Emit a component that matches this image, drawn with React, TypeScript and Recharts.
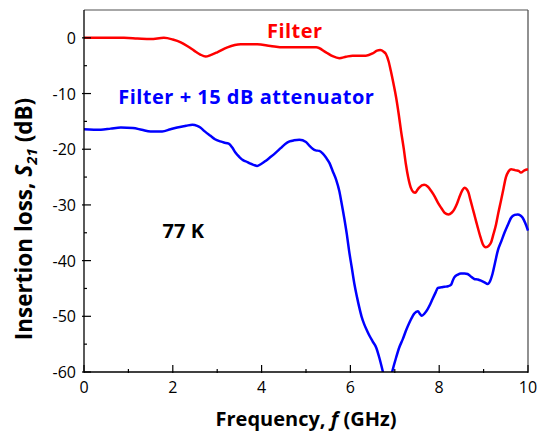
import { LineChart, Line, XAxis, YAxis, ReferenceLine, ReferenceDot, Label } from 'recharts';

const filterFreq = [
  0, 0.5, 0.9, 1.2, 1.5, 1.8, 2.0, 2.18, 2.35, 2.48, 2.62, 2.74, 2.85, 3.0, 3.23, 3.53, 3.9, 4.2, 4.5, 4.8,
  5.0, 5.23, 5.45, 5.6, 5.75, 5.9, 6.05, 6.35, 6.5, 6.6, 6.67, 6.75, 6.8, 6.86, 6.91, 6.97, 7.03, 7.09, 7.14,
  7.2, 7.25, 7.3, 7.36, 7.42, 7.46, 7.51, 7.55, 7.66, 7.74, 7.82, 7.9, 7.97, 8.05, 8.12, 8.21, 8.28, 8.34,
  8.4, 8.45, 8.52, 8.57, 8.62, 8.66, 8.7, 8.75, 8.81, 8.87, 8.93, 8.98, 9.05, 9.12, 9.17, 9.22, 9.28, 9.33,
  9.39, 9.45, 9.5, 9.56, 9.62, 9.68, 9.73, 9.79, 9.84, 9.92, 10,
];
const filterLoss = [
  0, 0, 0, -0.1, -0.2, 0, -0.3, -0.8, -1.6, -2.3, -3.0, -3.35, -3.1, -2.6, -1.7, -1.15, -1.15, -1.45, -1.7, -1.7,
  -1.7, -1.7, -2.6, -3.3, -3.65, -3.4, -3.2, -3.2, -2.8, -2.3, -2.2, -2.5, -2.9, -4.2, -5.9, -8.2, -10.7, -13.8, -16.7,
  -19.8, -22.7, -25.0, -26.9, -27.7, -27.8, -27.3, -26.9, -26.4, -26.7, -27.5, -28.5, -29.6, -30.6, -31.4, -31.7, -31.4, -30.8,
  -29.8, -28.7, -27.4, -26.9, -27.2, -27.8, -29, -30.5, -32.3, -34.1, -35.8, -37.0, -37.6, -37.3, -36.7, -35.3, -33.5, -31.5,
  -29.3, -27.0, -25.1, -24.0, -23.6, -23.7, -23.8, -23.9, -24.2, -23.8, -23.6,
];

const attFreq = [
  0, 0.38, 0.6, 0.83, 1.1, 1.3, 1.5, 1.76, 1.95, 2.1, 2.3, 2.44, 2.55, 2.62, 2.72, 2.85, 2.95, 3.07, 3.15, 3.26,
  3.34, 3.41, 3.5, 3.59, 3.68, 3.75, 3.82, 3.9, 3.98, 4.09, 4.2, 4.32, 4.43, 4.54, 4.63, 4.73, 4.85, 5.0, 5.08,
  5.15, 5.22, 5.3, 5.38, 5.45, 5.53, 5.6, 5.68, 5.75, 5.8, 5.86, 5.92, 5.97, 6.03, 6.09, 6.15, 6.2, 6.25, 6.31,
  6.37, 6.43, 6.5, 6.58, 6.65, 6.73, 6.78, 6.84, 6.9, 6.94, 7.03, 7.1, 7.18, 7.25, 7.33, 7.4, 7.44, 7.52, 7.57,
  7.61, 7.67, 7.74, 7.8, 7.85, 7.92, 7.97, 8.05, 8.12, 8.2, 8.27, 8.3, 8.34, 8.42, 8.49, 8.57, 8.64, 8.72, 8.79,
  8.87, 8.94, 9.02, 9.09, 9.15, 9.2, 9.26, 9.32, 9.4, 9.47, 9.55, 9.62, 9.7, 9.77, 9.83, 9.88, 9.94, 10,
];
const attLoss = [
  -16.4, -16.5, -16.3, -16.1, -16.2, -16.5, -16.8, -16.8, -16.4, -16.1, -15.8, -15.6, -15.8, -16.1, -16.8, -17.6, -18.2, -18.6, -18.8, -19.0,
  -19.7, -20.6, -21.4, -22.0, -22.3, -22.6, -22.8, -23.0, -22.7, -22.1, -21.4, -20.6, -19.8, -19.0, -18.6, -18.4, -18.3, -18.7, -19.4,
  -19.9, -20.2, -20.3, -20.8, -21.5, -22.5, -23.9, -25.5, -27.5, -29.6, -32.3, -35.3, -38.2, -41.2, -44.2, -46.6, -48.4, -50, -51.4,
  -52.5, -53.5, -54.5, -55.6, -57.4, -59.9, -61.5, -63, -61.4, -60, -57.4, -55.6, -54.1, -52.6, -51.1, -50.0, -49.5, -49.1, -49.6,
  -49.9, -49.5, -48.7, -47.8, -46.9, -45.7, -44.9, -44.8, -44.7, -44.6, -44.3, -43.7, -43.0, -42.5, -42.3, -42.3, -42.4, -42.9, -43.3,
  -43.4, -43.6, -43.9, -44.2, -43.6, -42.4, -40.3, -38.2, -36.5, -35.0, -33.5, -32.3, -31.8, -31.7, -31.9, -32.3, -33.3, -34.6,
];

const xTicks = [0, 1, 2, 3, 4, 5, 6, 7, 8, 9, 10];
const yTicks = [-60, -55, -50, -45, -40, -35, -30, -25, -20, -15, -10, -5, 0];

const filterData = filterFreq.map((f, i) => ({ f, v: filterLoss[i] }));
const attData = attFreq.map((f, i) => ({ f, v: attLoss[i] }));

const FONT = '"Open Sans", sans-serif';

function XTick({ x, y, payload }: any) {
  const major = payload.value % 2 === 0;
  return (
    <g>
      <line x1={x} x2={x} y1={y + 1} y2={y - (major ? 7 : 3)} stroke="#000" strokeWidth={1.2} />
      {major && (
        <text x={x} y={y + 21} textAnchor="middle" fontSize={16} fontFamily={FONT} fill="#000">
          {payload.value}
        </text>
      )}
    </g>
  );
}

function YTick({ x, y, payload }: any) {
  const major = payload.value % 10 === 0;
  return (
    <g>
      <line x1={x - (major ? 2 : 0)} x2={x + (major ? 7 : 3)} y1={y} y2={y} stroke="#000" strokeWidth={1.2} />
      {major && (
        <text x={x - 8} y={y + 6} textAnchor="end" fontSize={16} fontFamily={FONT} fill="#000">
          {payload.value}
        </text>
      )}
    </g>
  );
}

function textShape(label: string, color: string, spacing = 0.5) {
  return (p: any) => (
    <text x={p.cx} y={p.cy} fontSize={20} fontWeight="bold" fontFamily={FONT} fill={color} letterSpacing={spacing}>
      {label}
    </text>
  );
}

export default function App() {
  return (
    <div style={{ position: 'absolute', left: 0, top: 0, background: '#fff' }}>
      <LineChart width={540} height={433} margin={{ top: 10, right: 12, left: 0, bottom: 0 }}>
        <XAxis
          type="number"
          dataKey="f"
          domain={[0, 10]}
          ticks={xTicks}
          interval={0}
          tickSize={0}
          tickMargin={0}
          tick={(p: any) => <XTick {...p} />}
          axisLine={{ stroke: '#000', strokeWidth: 1.3 }}
          height={61}
        >
          <Label
            content={(p: any) => {
              const vb = p.viewBox;
              return (
                <text x={vb.x + vb.width / 2} y={426} textAnchor="middle" fontSize={20} fontWeight="bold" fontFamily={FONT} fill="#000">
                  Frequency, <tspan fontStyle="italic">f</tspan> (GHz)
                </text>
              );
            }}
          />
        </XAxis>
        <YAxis
          type="number"
          domain={[-60, 5]}
          allowDataOverflow
          ticks={yTicks}
          interval={0}
          tickSize={0}
          tickMargin={0}
          tick={(p: any) => <YTick {...p} />}
          axisLine={{ stroke: '#000', strokeWidth: 1.3 }}
          width={84}
        >
          <Label
            content={() => (
              <text
                x={32}
                y={219}
                transform="rotate(-90, 32, 219)"
                textAnchor="middle"
                fontSize={22.5}
                fontWeight="bold"
                fontFamily={FONT}
                fill="#000"
              >
                Insertion loss, <tspan fontStyle="italic">S</tspan>
                <tspan fontStyle="italic" fontSize={15} dy={5}>21</tspan>
                <tspan dy={-5}> (dB)</tspan>
              </text>
            )}
          />
        </YAxis>
        <ReferenceLine y={5} stroke="#8a8a8a" strokeWidth={1.3} />
        <ReferenceLine x={10} stroke="#555" strokeWidth={1.3} />
        <Line
          data={filterData}
          dataKey="v"
          type="monotone"
          stroke="#ff0000"
          strokeWidth={2.5}
          dot={false}
          isAnimationActive={false}
        />
        <Line
          data={attData}
          dataKey="v"
          type="monotone"
          stroke="#0000ff"
          strokeWidth={2.5}
          dot={false}
          isAnimationActive={false}
        />
        <ReferenceDot x={4.12} y={0} r={0} shape={textShape('Filter', '#ff0000')} />
        <ReferenceDot x={0.77} y={-11.9} r={0} shape={textShape('Filter + 15 dB attenuator', '#0000ff')} />
        <ReferenceDot x={1.77} y={-36} r={0} shape={textShape('77 K', '#000', 0)} />
      </LineChart>
    </div>
  );
}
